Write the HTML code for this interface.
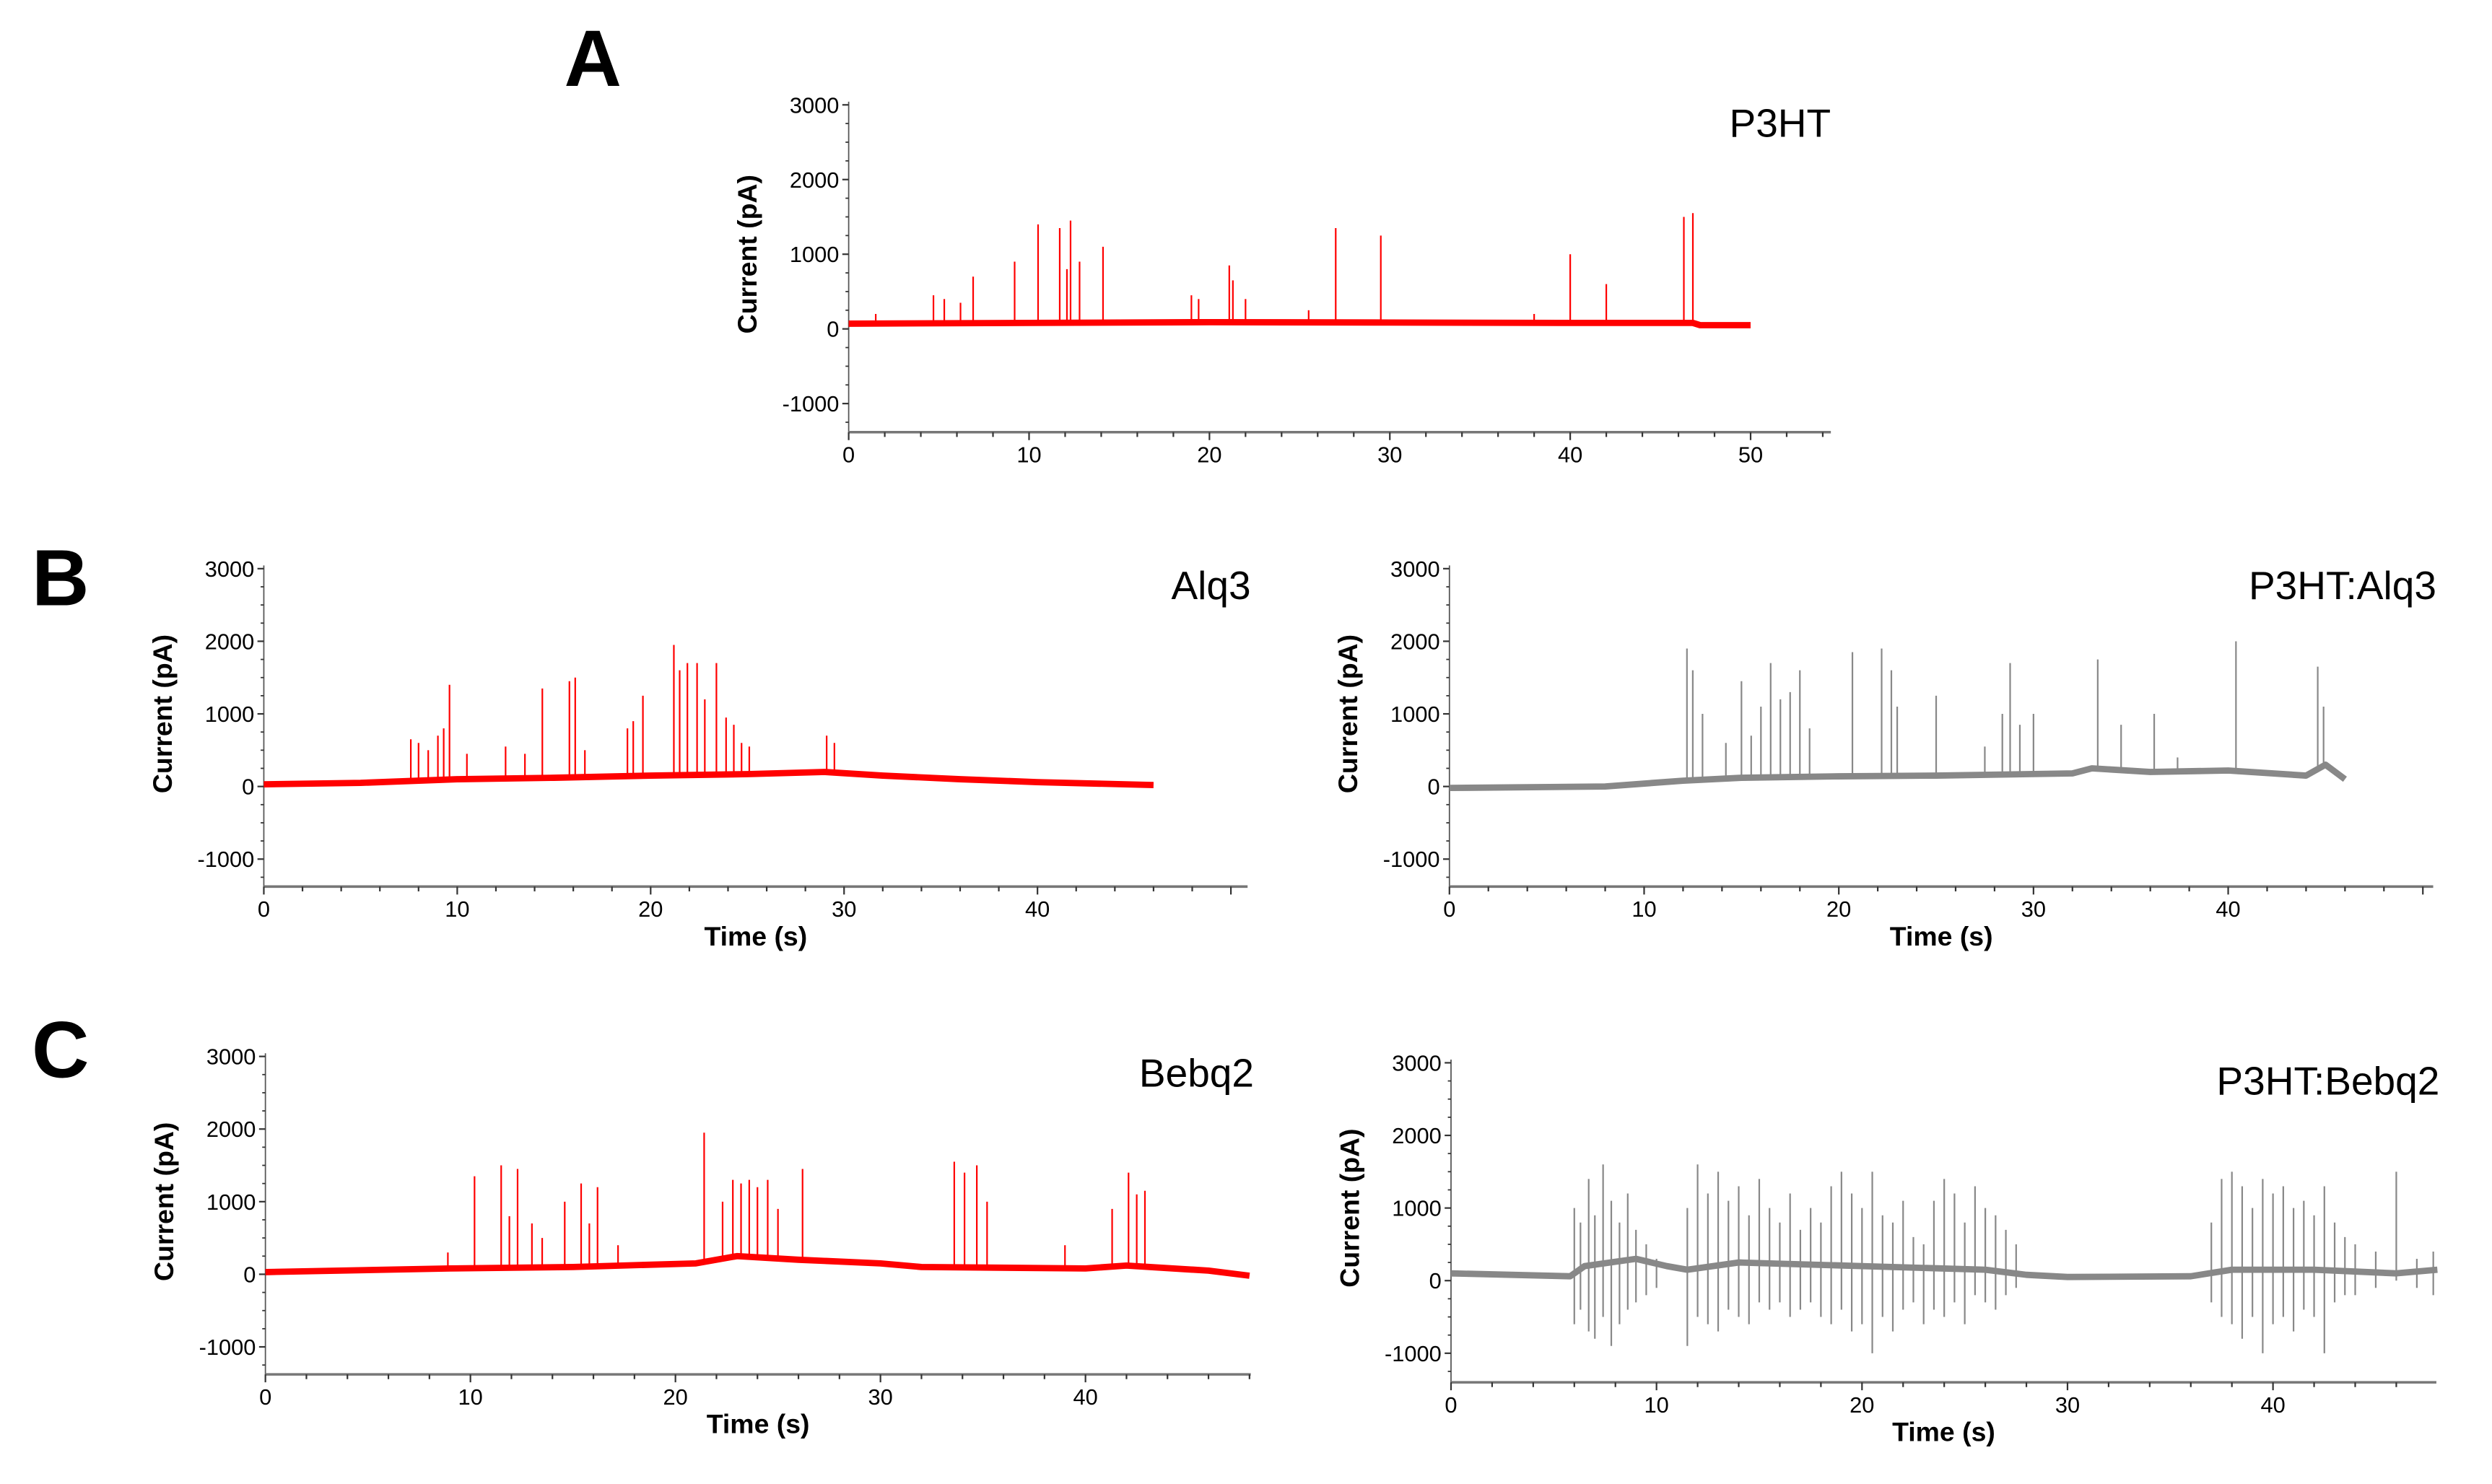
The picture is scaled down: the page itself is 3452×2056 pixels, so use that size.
<!DOCTYPE html>
<html><head><meta charset="utf-8"><style>
html,body{margin:0;padding:0;background:#fff;}
svg{display:block;font-family:"Liberation Sans",Arial,sans-serif;}
</style></head><body>
<svg id="fig" width="3452" height="2056" viewBox="0 0 1568 934" preserveAspectRatio="none" xmlns="http://www.w3.org/2000/svg">
<text x="355" y="54" font-size="50" font-weight="bold">A</text>
<text x="20" y="381" font-size="50" font-weight="bold">B</text>
<text x="20" y="678" font-size="50" font-weight="bold">C</text>
</svg>
<script>
// ---- data (time s, current pA) ----
const p3htBaseT = [0, 10, 20, 30, 40, 46.8, 47.2, 50];
const p3htBaseV = [70, 80, 90, 85, 80, 80, 50, 50];
const p3htSpikeT = [1.5, 4.7, 5.3, 6.2, 6.9, 9.2, 10.5, 11.7, 12.1, 12.3, 12.8, 14.1, 19, 19.4, 21.1, 21.3, 22, 25.5, 27, 29.5, 38, 40, 42, 46.3, 46.8];
const p3htSpikeV = [200, 450, 400, 350, 700, 900, 1400, 1350, 800, 1450, 900, 1100, 450, 400, 850, 650, 400, 250, 1350, 1250, 200, 1000, 600, 1500, 1550];

const alqBaseT = [0, 5, 10, 15, 20, 25, 29, 32, 36, 40, 46];
const alqBaseV = [30, 50, 100, 120, 150, 170, 200, 150, 100, 60, 20];
const alqSpikeT = [7.6, 8, 8.5, 9, 9.3, 9.6, 10.5, 12.5, 13.5, 14.4, 15.8, 16.1, 16.6, 18.8, 19.1, 19.6, 21.2, 21.5, 21.9, 22.4, 22.8, 23.4, 23.9, 24.3, 24.7, 25.1, 29.1, 29.5];
const alqSpikeV = [650, 600, 500, 700, 800, 1400, 450, 550, 450, 1350, 1450, 1500, 500, 800, 900, 1250, 1950, 1600, 1700, 1700, 1200, 1700, 950, 850, 600, 550, 700, 600];

const pAlqBaseT = [0, 8, 12, 15, 20, 25, 32, 33, 36, 40, 44, 45, 46];
const pAlqBaseV = [-20, 0, 80, 120, 140, 150, 180, 250, 200, 220, 150, 300, 100];
const pAlqSpikeT = [12.2, 12.5, 13, 14.2, 15, 15.5, 16, 16.5, 17, 17.5, 18, 18.5, 20.7, 22.2, 22.7, 23, 25, 27.5, 28.4, 28.8, 29.3, 30, 33.3, 34.5, 36.2, 37.4, 40.4, 44.6, 44.9];
const pAlqSpikeV = [1900, 1600, 1000, 600, 1450, 700, 1100, 1700, 1200, 1300, 1600, 800, 1850, 1900, 1600, 1100, 1250, 550, 1000, 1700, 850, 1000, 1750, 850, 1000, 400, 2000, 1650, 1100];

const bebBaseT = [0, 9, 15, 21, 23, 26, 30, 32, 40, 42, 46, 48];
const bebBaseV = [30, 80, 100, 150, 250, 200, 150, 100, 80, 120, 50, -20];
const bebSpikeT = [8.9, 10.2, 11.5, 11.9, 12.3, 13, 13.5, 14.6, 15.4, 15.8, 16.2, 17.2, 21.4, 22.3, 22.8, 23.2, 23.6, 24, 24.5, 25, 26.2, 33.6, 34.1, 34.7, 35.2, 39, 41.3, 42.1, 42.5, 42.9];
const bebSpikeV = [300, 1350, 1500, 800, 1450, 700, 500, 1000, 1250, 700, 1200, 400, 1950, 1000, 1300, 1250, 1300, 1200, 1300, 900, 1450, 1550, 1400, 1500, 1000, 400, 900, 1400, 1100, 1150];

const pBebBaseT = [0, 5.8, 6.5, 9, 10.5, 11.5, 14, 20, 26, 28, 30, 36, 38, 42, 46, 48];
const pBebBaseV = [100, 60, 200, 300, 200, 150, 250, 200, 150, 80, 50, 60, 150, 150, 100, 150];
const pBebSpikeT = [6.0, 6.3, 6.7, 7.0, 7.4, 7.8, 8.2, 8.6, 9.0, 9.5, 10.0, 11.5, 12, 12.5, 13, 13.5, 14, 14.5, 15, 15.5, 16, 16.5, 17, 17.5, 18, 18.5, 19, 19.5, 20, 20.5, 21, 21.5, 22, 22.5, 23, 23.5, 24, 24.5, 25, 25.5, 26, 26.5, 27, 27.5, 37, 37.5, 38, 38.5, 39, 39.5, 40, 40.5, 41, 41.5, 42, 42.5, 43, 43.5, 44, 45, 46, 47, 47.8];
const pBebSpikeHi = [1000, 800, 1400, 900, 1600, 1100, 800, 1200, 700, 500, 300, 1000, 1600, 1200, 1500, 1100, 1300, 900, 1400, 1000, 800, 1200, 700, 1000, 800, 1300, 1500, 1200, 1000, 1500, 900, 800, 1100, 600, 500, 1100, 1400, 1200, 800, 1300, 1000, 900, 700, 500, 800, 1400, 1500, 1300, 1000, 1400, 1200, 1300, 1000, 1100, 900, 1300, 800, 600, 500, 400, 1500, 300, 400];
const pBebSpikeLo = [-600, -400, -700, -800, -500, -900, -600, -400, -300, -200, -100, -900, -500, -600, -700, -400, -500, -600, -300, -400, -300, -500, -400, -300, -500, -600, -400, -700, -600, -1000, -500, -700, -400, -300, -600, -400, -500, -300, -600, -200, -300, -400, -200, -100, -300, -500, -600, -800, -500, -1000, -600, -500, -700, -400, -500, -1000, -300, -200, -200, -100, 0, -100, -200];

const yTickVals = [3000, 2000, 1000, 0, -1000];
const xTickA = [0, 10, 20, 30, 40, 50];
const xTickBC = [0, 10, 20, 30, 40];

const NS = 'http://www.w3.org/2000/svg';
const svg = document.getElementById('fig');
function mk(tag, attrs, parent) {
  const e = document.createElementNS(NS, tag);
  for (const k in attrs) e.setAttribute(k, attrs[k]);
  (parent || svg).appendChild(e);
  return e;
}

function panel(o) {
  const g = mk('g', {});
  
  
  const sx = t => o.x0 + t * o.pxs;
  const sy = v => o.y0 - v * o.pyk / 1000;
  const ya = mk('line', {x1: o.x0, x2: o.x0, y1: sy(3000) - 2, y2: o.axY, stroke: '#555', 'stroke-width': 0.8}, g);
  
  
  for (let v = -1250; v <= 3000; v += 250) {
    if (sy(v) > o.axY) continue;
    const major = v % 1000 === 0;
    mk('line', {x1: o.x0 - (major ? 4 : 2), x2: o.x0, y1: sy(v), y2: sy(v), stroke: '#333', 'stroke-width': major ? 1 : 0.8}, g);
  }
  yTickVals.forEach(v => {
    const t = mk('text', {x: o.x0 - 6, y: sy(v) + 5, 'font-size': 14, 'text-anchor': 'end', fill: '#000'}, g);
    t.textContent = v;
    
    
  });
  const xa = mk('line', {x1: o.x0, x2: o.xEnd, y1: o.axY, y2: o.axY, stroke: '#777', 'stroke-width': 1.6}, g);
  
  
  for (let t = 0; sx(t) <= o.xEnd; t += 2) {
    const major = t % 10 === 0;
    mk('line', {x1: sx(t), x2: sx(t), y1: o.axY, y2: o.axY + (major ? 5 : 3), stroke: '#333', 'stroke-width': 1}, g);
  }
  o.xticks.forEach(t => {
    const e = mk('text', {x: sx(t), y: o.axY + 19, 'font-size': 14, 'text-anchor': 'middle'}, g);
    e.textContent = t;
    
    
  });
  const yt = mk('text', {x: 0, y: 0, 'font-size': 17, 'font-weight': 'bold', 'text-anchor': 'middle', transform: `translate(${o.x0 - 58},${sy(1000)}) rotate(-90)`}, g);
  yt.textContent = 'Current (pA)';
  
  
  if (o.xtitle) {
    const xt = mk('text', {x: (o.x0 + o.xEnd) / 2, y: o.axY + 37, 'font-size': 17, 'font-weight': 'bold', 'text-anchor': 'middle'}, g);
    xt.textContent = 'Time (s)';
    
    
  }
  const lb = mk('text', {x: o.labelX, y: o.labelY, 'font-size': 25, 'text-anchor': 'end'}, g);
  lb.textContent = o.label;
  
  
  const base = t => {
    const T = o.bt, V = o.bv;
    for (let i = 0; i < T.length - 1; i++) if (t <= T[i + 1]) return V[i] + (V[i + 1] - V[i]) * (t - T[i]) / (T[i + 1] - T[i]);
    return V[V.length - 1];
  };
  const bl = mk('polyline', {points: o.bt.map((t, i) => sx(t) + ',' + sy(o.bv[i])).join(' '), fill: 'none', stroke: o.color, 'stroke-width': 4, 'stroke-linejoin': 'round'}, g);
  
  
  o.st.forEach((t, i) => {
    const b = base(t);
    const lo = o.slo ? o.slo[i] : b;
    const s = mk('line', {x1: sx(t), x2: sx(t), y1: sy(lo), y2: sy(o.sv[i]), stroke: o.color, 'stroke-width': 1}, g);
    
    
  });
}

panel({name: 'panel-a-p3ht', x0: 534, y0: 207, pyk: 47, axY: 272, xEnd: 1152, pxs: 11.35, xticks: xTickA, xtitle: false, label: 'P3HT', labelX: 1152, labelY: 86, color: '#ff0000', bt: p3htBaseT, bv: p3htBaseV, st: p3htSpikeT, sv: p3htSpikeV});
panel({name: 'panel-b-alq3', x0: 166, y0: 495, pyk: 45.7, axY: 558, xEnd: 785, pxs: 12.17, xticks: xTickBC, xtitle: true, label: 'Alq3', labelX: 787, labelY: 377, color: '#ff0000', bt: alqBaseT, bv: alqBaseV, st: alqSpikeT, sv: alqSpikeV});
panel({name: 'panel-b-p3ht-alq3', x0: 912, y0: 495, pyk: 45.7, axY: 558, xEnd: 1531, pxs: 12.25, xticks: xTickBC, xtitle: true, label: 'P3HT:Alq3', labelX: 1533, labelY: 377, color: '#888888', bt: pAlqBaseT, bv: pAlqBaseV, st: pAlqSpikeT, sv: pAlqSpikeV});
panel({name: 'panel-c-bebq2', x0: 167, y0: 802, pyk: 45.7, axY: 865, xEnd: 787, pxs: 12.9, xticks: xTickBC, xtitle: true, label: 'Bebq2', labelX: 789, labelY: 684, color: '#ff0000', bt: bebBaseT, bv: bebBaseV, st: bebSpikeT, sv: bebSpikeV});
panel({name: 'panel-c-p3ht-bebq2', x0: 913, y0: 806, pyk: 45.7, axY: 870, xEnd: 1533, pxs: 12.93, xticks: xTickBC, xtitle: true, label: 'P3HT:Bebq2', labelX: 1535, labelY: 689, color: '#888888', bt: pBebBaseT, bv: pBebBaseV, st: pBebSpikeT, sv: pBebSpikeHi, slo: pBebSpikeLo});
</script>
</body></html>
